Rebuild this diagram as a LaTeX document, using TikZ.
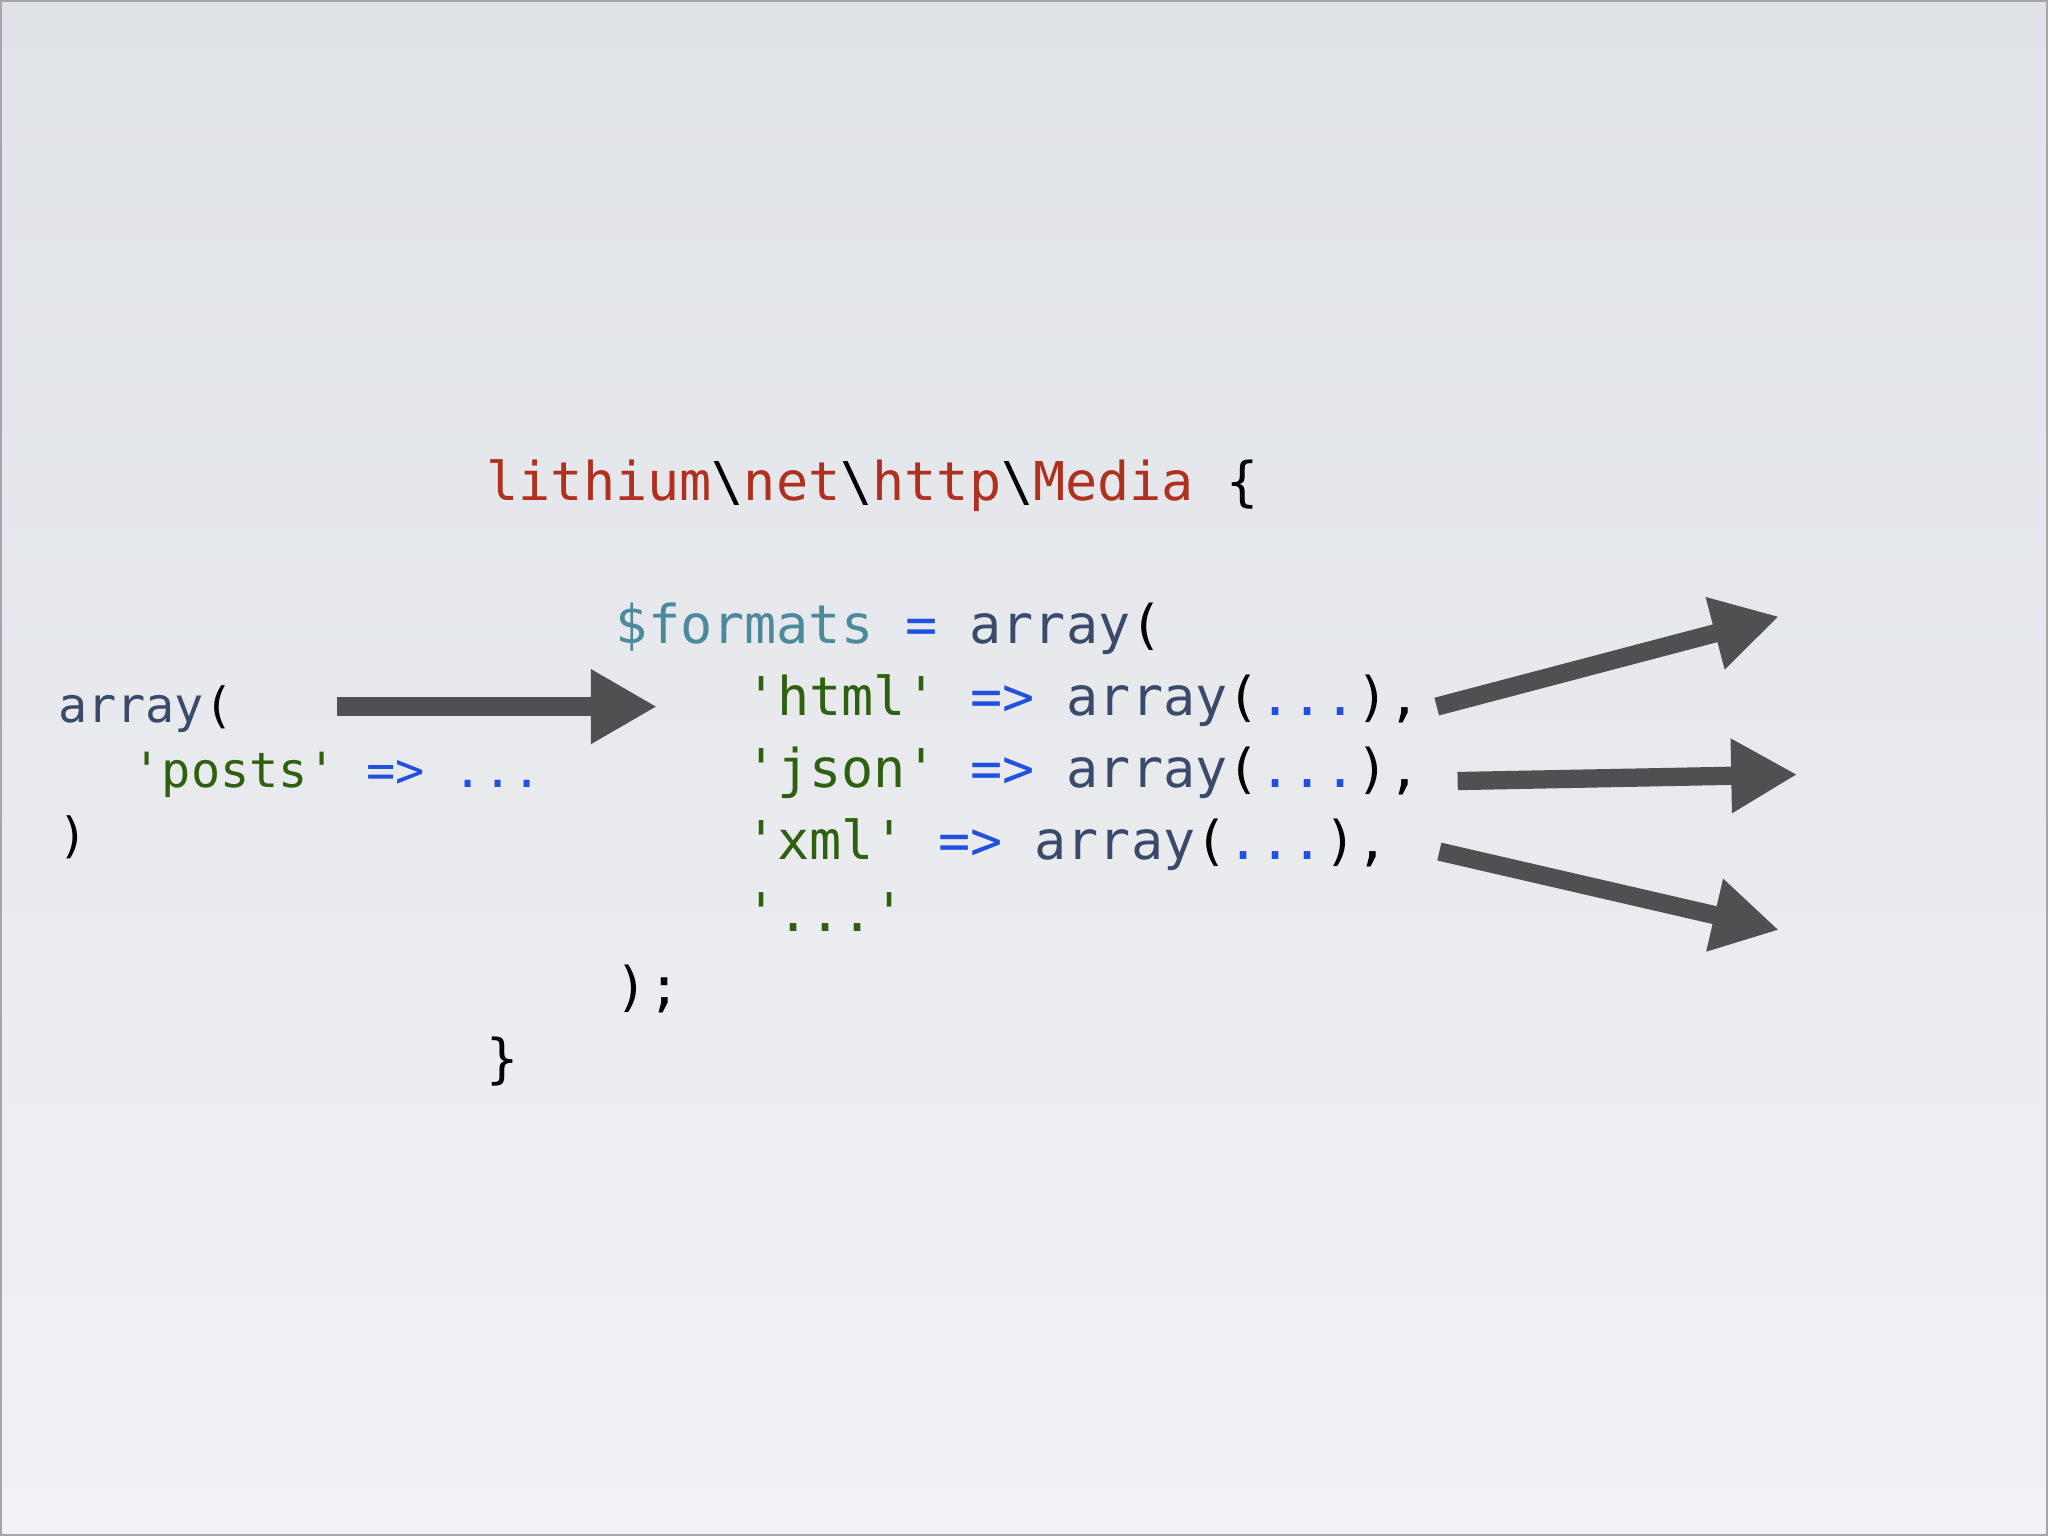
\documentclass[tikz,border=0pt]{standalone}
\usepackage{fontspec}
\setmonofont{DejaVu Sans Mono}
\usetikzlibrary{arrows.meta}
\definecolor{cred}{HTML}{B03020}
\definecolor{cteal}{HTML}{4A8A9A}
\definecolor{cslate}{HTML}{3A4A6A}
\definecolor{cgreen}{HTML}{2E6010}
\definecolor{cblue}{HTML}{2050E0}
\definecolor{carrow}{HTML}{4F5052}
\begin{document}
\begin{tikzpicture}[x=0.013061cm,y=-0.013061cm,
  code/.style={anchor=base west,inner sep=0pt,font=\ttfamily\fontsize{15.2}{18}\selectfont,text=black},
  smallcode/.style={code,font=\ttfamily\fontsize{13.8}{17}\selectfont},
  bigarrow/.style={draw=carrow,line width=5.2pt,-{Triangle[length=0.66cm,width=0.7cm]}}]
\useasboundingbox (0,0) rectangle (1568,1176);
\shade[top color={rgb,255:red,223;green,226;blue,231},middle color={rgb,255:red,234;green,236;blue,240},bottom color={rgb,255:red,241;green,242;blue,245}] (0,0) rectangle (1568,1176);
\draw[gray!70,line width=0.6pt] (0.5,0.5) rectangle (1567.5,1175.5);
\node[code] (l1) at (372,383) {\textcolor{cred}{lithium}\textcolor{black}{\textbackslash}\textcolor{cred}{net}\textbackslash\textcolor{cred}{http}\textbackslash\textcolor{cred}{Media} \{};
\node[code] (l2) at (471,493) {\textcolor{cteal}{\$formats} \textcolor{cblue}{=} \textcolor{cslate}{array}(};
\node[code] (l3) at (570,548) {\textcolor{cgreen}{'html'} \textcolor{cblue}{=>} \textcolor{cslate}{array}(\textcolor{cblue}{...}),};
\node[code] (l4) at (570,603) {\textcolor{cgreen}{'json'} \textcolor{cblue}{=>} \textcolor{cslate}{array}(\textcolor{cblue}{...}),};
\node[code] (l5) at (570,658) {\textcolor{cgreen}{'xml'} \textcolor{cblue}{=>} \textcolor{cslate}{array}(\textcolor{cblue}{...}),};
\node[code] (l6) at (570,713) {\textcolor{cgreen}{'...'}};
\node[code] (l7) at (471,770) {);};
\node[code] (l8) at (372,825) {\}};
\node[smallcode] (a1) at (44,553) {\textcolor{cslate}{array}(};
\node[smallcode] (a2) at (101,603) {\textcolor{cgreen}{'posts'} \textcolor{cblue}{=> ...}};
\node[smallcode] (a3) at (44,653) {)};
\coordinate (s0) at (258,541); \coordinate (e0) at (503,541);
\coordinate (s1) at (1100,541); \coordinate (e1) at (1362,472);
\coordinate (s2) at (1116,598); \coordinate (e2) at (1376,593);
\coordinate (s3) at (1102,652); \coordinate (e3) at (1362,712);
\draw[bigarrow] (s0) -- (e0);
\draw[bigarrow] (s1) -- (e1);
\draw[bigarrow] (s2) -- (e2);
\draw[bigarrow] (s3) -- (e3);
\end{tikzpicture}
\end{document}
